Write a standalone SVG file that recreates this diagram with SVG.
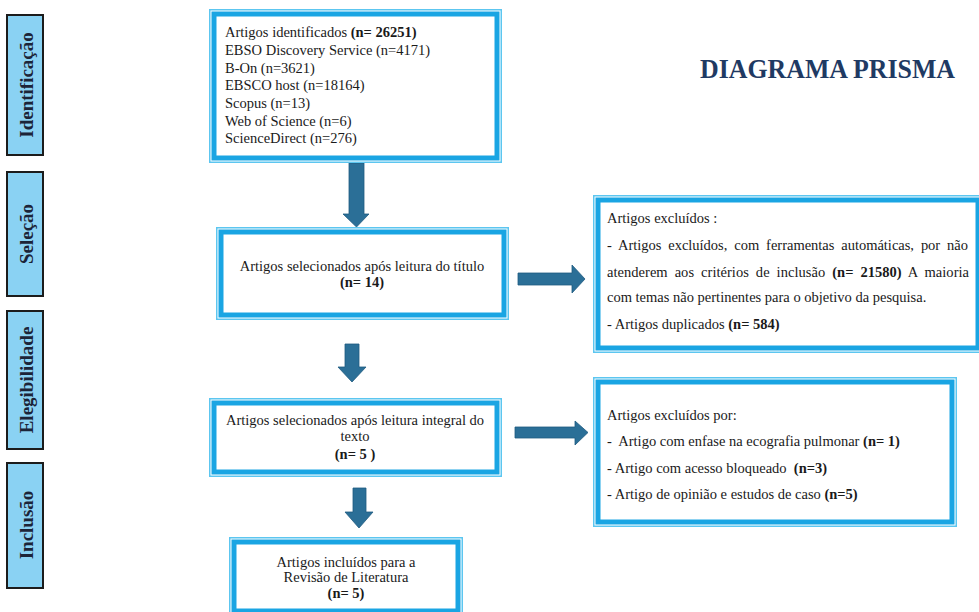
<svg xmlns="http://www.w3.org/2000/svg" width="979" height="612" viewBox="0 0 979 612">
<style>
  text { font-family: "Liberation Serif", "Times New Roman", serif; fill: #1a1a1a; }
  .t { font-size: 14.5px; }
  .b { font-weight: bold; }
  .c { text-anchor: middle; }
  .j { word-spacing: 3.3px; }
  .side rect { fill: #8ad2f3; stroke: #1c1c1c; stroke-width: 2; }
  .side text { font-size: 19px; font-weight: bold; text-anchor: middle; fill: #1c2438; }
  .fo { fill: #ffffff; stroke: #5cc6f0; stroke-width: 1.5; }
  .fb { fill: #ffffff; stroke: #1aa5e3; stroke-width: 5; }
  .arrow { fill: #2b6f97; stroke: #1f5a80; stroke-width: 0.8; }
  .title { font-size: 27px; font-weight: bold; fill: #1f3a63; }
</style>

<g id="side-labels" class="side">
  <g id="lbl-identificacao">
    <rect x="7" y="15" width="36" height="140"/>
    <text transform="translate(33,85) rotate(-90)">Identificação</text>
  </g>
  <g id="lbl-selecao">
    <rect x="7" y="172" width="36" height="124"/>
    <text transform="translate(33,234) rotate(-90)">Seleção</text>
  </g>
  <g id="lbl-elegibilidade">
    <rect x="7" y="311" width="36" height="138"/>
    <text transform="translate(33,380) rotate(-90)">Elegibilidade</text>
  </g>
  <g id="lbl-inclusao">
    <rect x="7" y="463" width="36" height="125"/>
    <text transform="translate(33,525) rotate(-90)">Inclusão</text>
  </g>
</g>

<text id="title" class="title" x="700" y="78" textLength="255" lengthAdjust="spacingAndGlyphs">DIAGRAMA PRISMA</text>

<g id="connectors">
  <polygon class="arrow" points="349,163 364,163 364,214 369,214 356.5,227 343,214 349,214"/>
  <polygon class="arrow" points="345,344 359,344 359,367 366,367 352,382 338,367 345,367"/>
  <polygon class="arrow" points="353,488 366,488 366,512 373,512 359,528 345,512 353,512"/>
  <polygon class="arrow" points="518,273 572,273 572,265 585,279 572,293 572,285 518,285"/>
  <polygon class="arrow" points="515,427 575,427 575,421 588,432.5 575,445 575,438 515,438"/>
</g>

<g id="node-identificados">
  <rect class="fo" x="209.75" y="9.75" width="291.5" height="152.5"/>
  <rect class="fb" x="214" y="14" width="283" height="144"/>
  <text class="t" x="225" y="37">Artigos identificados <tspan class="b">(n= 26251)</tspan></text>
  <text class="t" x="225" y="55">EBSO Discovery Service (n=4171)</text>
  <text class="t" x="225" y="72.5">B-On (n=3621)</text>
  <text class="t" x="225" y="90">EBSCO host (n=18164)</text>
  <text class="t" x="225" y="108">Scopus (n=13)</text>
  <text class="t" x="225" y="125.5">Web of Science (n=6)</text>
  <text class="t" x="225" y="143">ScienceDirect (n=276)</text>
</g>

<g id="node-titulo">
  <rect class="fo" x="216.75" y="227.75" width="291.5" height="91.5"/>
  <rect class="fb" x="221" y="232" width="283" height="83"/>
  <text class="t c" x="362" y="271">Artigos selecionados após leitura do título</text>
  <text class="t c b" x="362" y="287">(n= 14)</text>
</g>

<g id="node-integral">
  <rect class="fo" x="209.75" y="398.75" width="291.5" height="77.5"/>
  <rect class="fb" x="214" y="403" width="283" height="69"/>
  <text class="t c" x="355" y="425">Artigos selecionados após leitura integral do</text>
  <text class="t c" x="355" y="441">texto</text>
  <text class="t c b" x="355" y="459">(n= 5 )</text>
</g>

<g id="node-incluidos">
  <rect class="fo" x="229.75" y="537.75" width="232.5" height="77.5"/>
  <rect class="fb" x="234" y="542" width="224" height="69"/>
  <text class="t c" x="346" y="567">Artigos incluídos para a</text>
  <text class="t c" x="346" y="582">Revisão de Literatura</text>
  <text class="t c b" x="346" y="598">(n= 5)</text>
</g>

<g id="node-excluidos-1">
  <rect class="fo" x="593.75" y="195.75" width="388.5" height="156.5"/>
  <rect class="fb" x="598" y="200" width="380" height="148"/>
  <text class="t" x="607" y="223">Artigos excluídos :</text>
  <text class="t j" x="607" y="250" textLength="361" lengthAdjust="spacing">- Artigos excluídos, com ferramentas automáticas, por não</text>
  <text class="t j" x="607" y="277" textLength="362" lengthAdjust="spacing">atenderem aos critérios de inclusão <tspan class="b">(n= 21580)</tspan> A maioria</text>
  <text class="t" x="607" y="302">com temas não pertinentes para o objetivo da pesquisa.</text>
  <text class="t" x="607" y="329">- Artigos duplicados <tspan class="b">(n= 584)</tspan></text>
</g>

<g id="node-excluidos-2">
  <rect class="fo" x="593.75" y="377.75" width="362.5" height="148.5"/>
  <rect class="fb" x="598" y="382" width="354" height="140"/>
  <text class="t" x="607" y="420">Artigos excluídos por:</text>
  <text class="t" x="607" y="446" style="white-space:pre">-  Artigo com enfase na ecografia pulmonar <tspan class="b">(n= 1)</tspan></text>
  <text class="t" x="607" y="473" style="white-space:pre">- Artigo com acesso bloqueado  <tspan class="b">(n=3)</tspan></text>
  <text class="t" x="607" y="499">- Artigo de opinião e estudos de caso <tspan class="b">(n=5)</tspan></text>
</g>
</svg>
